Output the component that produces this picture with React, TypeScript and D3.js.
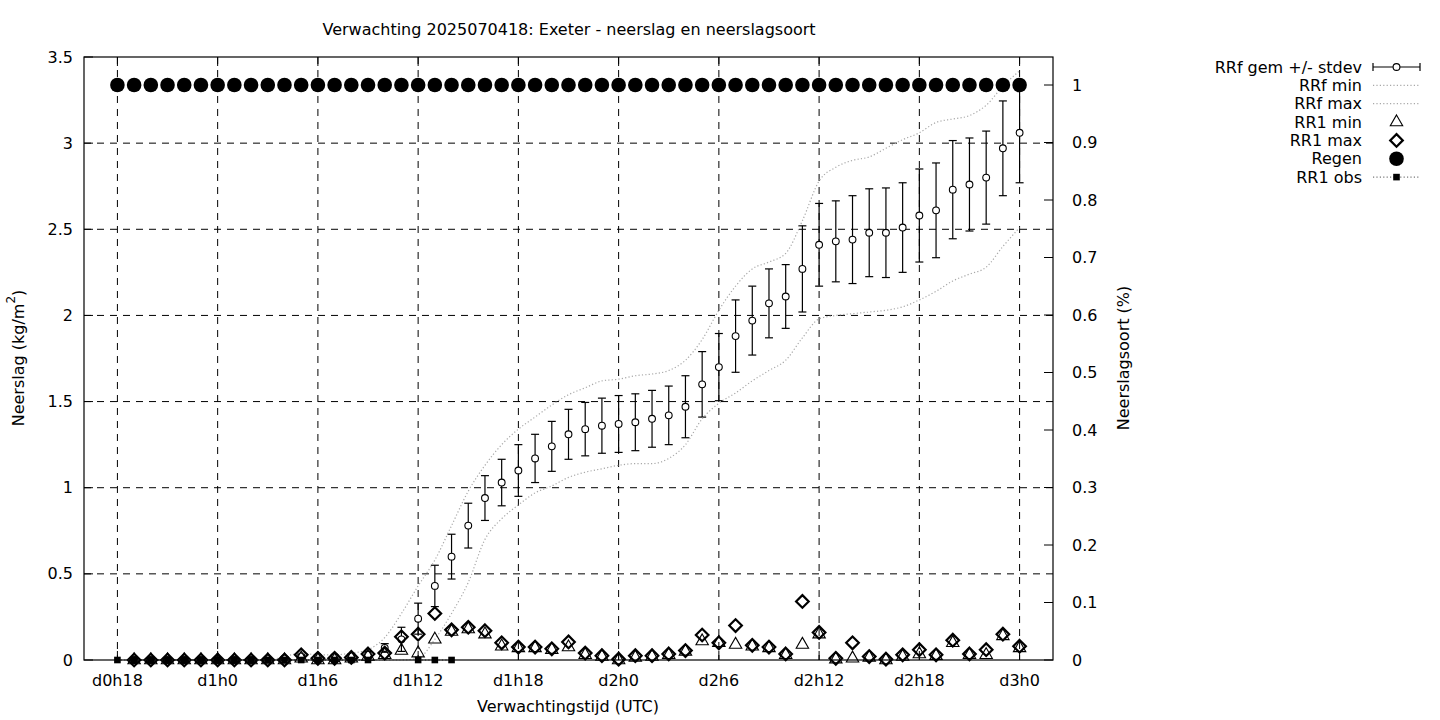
import React from "react";
import * as d3 from "d3";

// ---------- data ----------
const hours = [18,19,20,21,22,23,24,25,26,27,28,29,30,31,32,33,34,35,36,37,38,39,40,41,42,43,44,45,46,47,48,49,50,51,52,53,54,55,56,57,58,59,60,61,62,63,64,65,66,67,68,69,70,71,72];
const tickHours = [18,24,30,36,42,48,54,60,66,72];
const tickLabels = ["d0h18","d1h0","d1h6","d1h12","d1h18","d2h0","d2h6","d2h12","d2h18","d3h0"];
const leftTicks = [0,0.5,1,1.5,2,2.5,3,3.5];
const leftTickLabels = ["0","0.5","1","1.5","2","2.5","3","3.5"];
const rightTicks = [0,0.1,0.2,0.3,0.4,0.5,0.6,0.7,0.8,0.9,1];
const rightTickLabels = ["0","0.1","0.2","0.3","0.4","0.5","0.6","0.7","0.8","0.9","1"];

// RRf gem (mean) and stdev, h18..h72
const rrfMean = [null,0,0,0,0,0,0,0,0,0.005,0.01,0.02,0.02,0.02,0.02,0.03,0.07,0.12,0.24,0.43,0.60,0.78,0.94,1.03,1.10,1.17,1.24,1.31,1.34,1.36,1.37,1.38,1.40,1.42,1.47,1.60,1.70,1.88,1.97,2.07,2.11,2.27,2.41,2.43,2.44,2.48,2.48,2.51,2.58,2.61,2.73,2.76,2.80,2.97,3.06];
const rrfStd = [null,0,0,0,0,0,0,0,0,0.005,0.01,0.01,0.01,0.01,0.015,0.02,0.025,0.07,0.09,0.12,0.13,0.13,0.13,0.135,0.15,0.14,0.145,0.145,0.155,0.16,0.165,0.165,0.165,0.17,0.18,0.19,0.195,0.21,0.20,0.20,0.185,0.25,0.24,0.235,0.255,0.255,0.26,0.26,0.27,0.275,0.285,0.27,0.27,0.275,0.29];
const rrfMin = [null,0,0,0,0,0,0,0,0,0,0,0,0,0,0,0,0,0,0.01,0.12,0.27,0.45,0.70,0.82,0.90,0.97,1.01,1.06,1.09,1.11,1.13,1.14,1.14,1.17,1.25,1.40,1.49,1.55,1.62,1.68,1.74,1.87,1.98,2.00,2.01,2.02,2.03,2.05,2.09,2.14,2.20,2.24,2.28,2.40,2.51];
const rrfMax = [null,0,0,0,0,0,0,0,0,0,0.02,0.04,0.03,0.03,0.04,0.06,0.13,0.27,0.43,0.58,0.78,0.98,1.13,1.25,1.34,1.41,1.48,1.54,1.58,1.62,1.63,1.65,1.66,1.68,1.74,1.86,2.03,2.17,2.27,2.31,2.36,2.55,2.78,2.86,2.90,2.92,2.97,3.02,3.06,3.12,3.14,3.16,3.22,3.33,3.42];
const rr1Min = [null,0,0,0,0,0,0,0,0,0,0,0.01,0,0,0.01,0.02,0.03,0.055,0.04,0.12,0.165,0.18,0.15,0.08,0.07,0.07,0.06,0.075,0.03,0.02,0,0.015,0.02,0.03,0.05,0.11,0.10,0.09,0.08,0.07,0.03,0.09,0.15,0.005,0.01,0.015,0,0.02,0.035,0.025,0.10,0.03,0.03,0.14,0.07];
const rr1Max = [null,0,0,0,0,0,0,0,0,0,0,0.03,0.01,0.01,0.015,0.035,0.04,0.135,0.15,0.27,0.175,0.19,0.17,0.10,0.075,0.075,0.065,0.105,0.04,0.025,0.005,0.025,0.025,0.035,0.055,0.145,0.10,0.20,0.085,0.075,0.035,0.34,0.16,0.01,0.10,0.02,0.005,0.03,0.06,0.03,0.115,0.035,0.06,0.15,0.08];
const regen = [1,1,1,1,1,1,1,1,1,1,1,1,1,1,1,1,1,1,1,1,1,1,1,1,1,1,1,1,1,1,1,1,1,1,1,1,1,1,1,1,1,1,1,1,1,1,1,1,1,1,1,1,1,1,1];
const rr1Obs = [0,0,0,0,0,0,0,0,0,0,0,0,0,0,0,0,null,null,0,0,0,null,null,null,null,null,null,null,null,null,null,null,null,null,null,null,null,null,null,null,null,null,null,null,null,null,null,null,null,null,null,null,null,null,null];

const legendLabels = ["RRf gem +/- stdev","RRf min","RRf max","RR1 min","RR1 max","Regen","RR1 obs"];

// ---------- layout ----------
const W = 1440, H = 720;
const L = 84, R = 1053, T = 57, B = 660;
const FONT = "'DejaVu Sans', sans-serif";
const FS = 16;

const x = d3.scaleLinear().domain([16, 74]).range([L, R]);
const yL = d3.scaleLinear().domain([0, 3.5]).range([B, T]);
const yR = d3.scaleLinear().domain([0, 1]).range([B, 85]);

const DASH = "7,6";
const GRAY = "#a8a8a8";

function tri(cx: number, cy: number, s = 6.2) {
  return `M${cx},${cy - s * 1.15}L${cx + s},${cy + s * 0.6}L${cx - s},${cy + s * 0.6}Z`;
}
function diamond(cx: number, cy: number, s = 6.3) {
  return `M${cx},${cy - s}L${cx + s},${cy}L${cx},${cy + s}L${cx - s},${cy}Z`;
}

export default function App() {
  const pts = hours.map((h, i) => ({ h, i }));
  const lineL = (arr: (number | null)[]) =>
    d3.line<{ h: number; i: number }>()
      .defined((d) => arr[d.i] != null)
      .x((d) => x(d.h))
      .y((d) => yL(arr[d.i] as number))
      .curve(d3.curveMonotoneX)(pts) || "";
  const obsLine = d3.line<{ h: number; i: number }>()
    .defined((d) => rr1Obs[d.i] != null)
    .x((d) => x(d.h))
    .y((d) => yL(rr1Obs[d.i] as number))(pts) || "";

  const legX = 1362, legS0 = 1373, legS1 = 1420, legMid = 1396.5;
  const legY = (k: number) => 67 + k * 18.35;

  return (
    <svg width={W} height={H} style={{ position: "absolute", left: 0, top: 0, background: "#fff" }}
      fontFamily={FONT} fontSize={FS}>
      <rect x={0} y={0} width={W} height={H} fill="#fff" />
      {/* grid */}
      <g stroke="#000" strokeWidth={1} strokeDasharray={DASH} fill="none">
        {tickHours.map((h) => (
          <line key={"gx" + h} x1={x(h)} x2={x(h)} y1={T} y2={B} />
        ))}
        {leftTicks.filter((v) => v > 0 && v < 3.5).map((v) => (
          <line key={"gy" + v} x1={L} x2={R} y1={yL(v)} y2={yL(v)} />
        ))}
      </g>
      {/* ticks */}
      <g stroke="#000" strokeWidth={1}>
        {leftTicks.map((v) => (
          <line key={"lt" + v} x1={L} x2={L + 9} y1={yL(v)} y2={yL(v)} />
        ))}
        {rightTicks.map((v) => (
          <line key={"rt" + v} x1={R} x2={R - 9} y1={yR(v)} y2={yR(v)} />
        ))}
        {tickHours.map((h) => (
          <g key={"xt" + h}>
            <line x1={x(h)} x2={x(h)} y1={B} y2={B - 9} />
            <line x1={x(h)} x2={x(h)} y1={T} y2={T + 9} />
          </g>
        ))}
      </g>

      {/* RRf mean +/- stdev */}
      <g stroke="#000" strokeWidth={1.2}>
        {pts.filter((d) => rrfMean[d.i] != null).map((d) => {
          const m = rrfMean[d.i] as number, s = rrfStd[d.i] as number;
          const cx = x(d.h), y0 = yL(m - s), y1 = yL(m + s);
          return (
            <g key={"eb" + d.h}>
              <line x1={cx} x2={cx} y1={y0} y2={y1} />
              <line x1={cx - 4} x2={cx + 4} y1={y0} y2={y0} />
              <line x1={cx - 4} x2={cx + 4} y1={y1} y2={y1} />
              <circle cx={cx} cy={yL(m)} r={3.4} fill="#fff" strokeWidth={1.1} />
            </g>
          );
        })}
      </g>

      {/* RRf min / max */}
      <path d={lineL(rrfMin)} fill="none" stroke={GRAY} strokeWidth={1.2} strokeDasharray="1.2,2.2" />
      <path d={lineL(rrfMax)} fill="none" stroke={GRAY} strokeWidth={1.2} strokeDasharray="1.2,2.2" />

      {/* RR1 min triangles */}
      <g fill="none" stroke="#000" strokeWidth={1.1}>
        {pts.filter((d) => rr1Min[d.i] != null).map((d) => (
          <path key={"tr" + d.h} d={tri(x(d.h), yL(rr1Min[d.i] as number))} />
        ))}
      </g>
      {/* RR1 max diamonds */}
      <g fill="none" stroke="#000" strokeWidth={2.2}>
        {pts.filter((d) => rr1Max[d.i] != null).map((d) => (
          <path key={"dm" + d.h} d={diamond(x(d.h), yL(rr1Max[d.i] as number))} />
        ))}
      </g>
      {/* Regen */}
      <g fill="#000">
        {pts.map((d) => (
          <circle key={"rg" + d.h} cx={x(d.h)} cy={yR(regen[d.i])} r={7.3} />
        ))}
      </g>
      {/* RR1 obs */}
      <path d={obsLine} fill="none" stroke="#555" strokeWidth={1} strokeDasharray="1.2,2.2" />
      <g fill="#000">
        {pts.filter((d) => rr1Obs[d.i] != null).map((d) => (
          <rect key={"ob" + d.h} x={x(d.h) - 3.3} y={yL(rr1Obs[d.i] as number) - 3.3} width={6.6} height={6.6} />
        ))}
      </g>

      {/* border */}
      <rect x={L} y={T} width={R - L} height={B - T} fill="none" stroke="#000" strokeWidth={1.2} />

      {/* tick labels */}
      <g fill="#000">
        {leftTicks.map((v, k) => (
          <text key={"ll" + v} x={73} y={yL(v)} textAnchor="end" dominantBaseline="central">{leftTickLabels[k]}</text>
        ))}
        {rightTicks.map((v, k) => (
          <text key={"rl" + v} x={1072} y={yR(v)} textAnchor="start" dominantBaseline="central">{rightTickLabels[k]}</text>
        ))}
        {tickHours.map((h, k) => (
          <text key={"xl" + h} x={x(h)} y={680} textAnchor="middle" dominantBaseline="central">{tickLabels[k]}</text>
        ))}
      </g>

      {/* titles */}
      <text x={569} y={29} textAnchor="middle" dominantBaseline="central">Verwachting 2025070418: Exeter - neerslag en neerslagsoort</text>
      <text x={568} y={706} textAnchor="middle" dominantBaseline="central">Verwachtingstijd (UTC)</text>
      <text transform="translate(18,358) rotate(-90)" textAnchor="middle" dominantBaseline="central">
        Neerslag (kg/m<tspan baseline-shift="super" fontSize={12}>2</tspan>)
      </text>
      <text transform="translate(1123,358) rotate(-90)" textAnchor="middle" dominantBaseline="central">Neerslagsoort (%)</text>

      {/* legend */}
      <g>
        {legendLabels.map((lab, k) => (
          <text key={"lg" + k} x={legX} y={legY(k)} textAnchor="end" dominantBaseline="central">{lab}</text>
        ))}
        {/* errorbar sample */}
        <g stroke="#000" strokeWidth={1.2}>
          <line x1={legS0} x2={legS1} y1={legY(0)} y2={legY(0)} />
          <line x1={legS0} x2={legS0} y1={legY(0) - 4} y2={legY(0) + 4} />
          <line x1={legS1} x2={legS1} y1={legY(0) - 4} y2={legY(0) + 4} />
          <circle cx={legMid} cy={legY(0)} r={3.4} fill="#fff" strokeWidth={1.1} />
        </g>
        <line x1={legS0} x2={legS1} y1={legY(1)} y2={legY(1)} stroke={GRAY} strokeWidth={1.2} strokeDasharray="1.2,2.2" />
        <line x1={legS0} x2={legS1} y1={legY(2)} y2={legY(2)} stroke={GRAY} strokeWidth={1.2} strokeDasharray="1.2,2.2" />
        <path d={tri(legMid, legY(3))} fill="none" stroke="#000" strokeWidth={1.1} />
        <path d={diamond(legMid, legY(4))} fill="none" stroke="#000" strokeWidth={2.2} />
        <circle cx={legMid} cy={legY(5)} r={7.3} fill="#000" />
        <line x1={legS0} x2={legS1} y1={legY(6)} y2={legY(6)} stroke="#555" strokeWidth={1} strokeDasharray="1.2,2.2" />
        <rect x={legMid - 3.3} y={legY(6) - 3.3} width={6.6} height={6.6} fill="#000" />
      </g>
    </svg>
  );
}
